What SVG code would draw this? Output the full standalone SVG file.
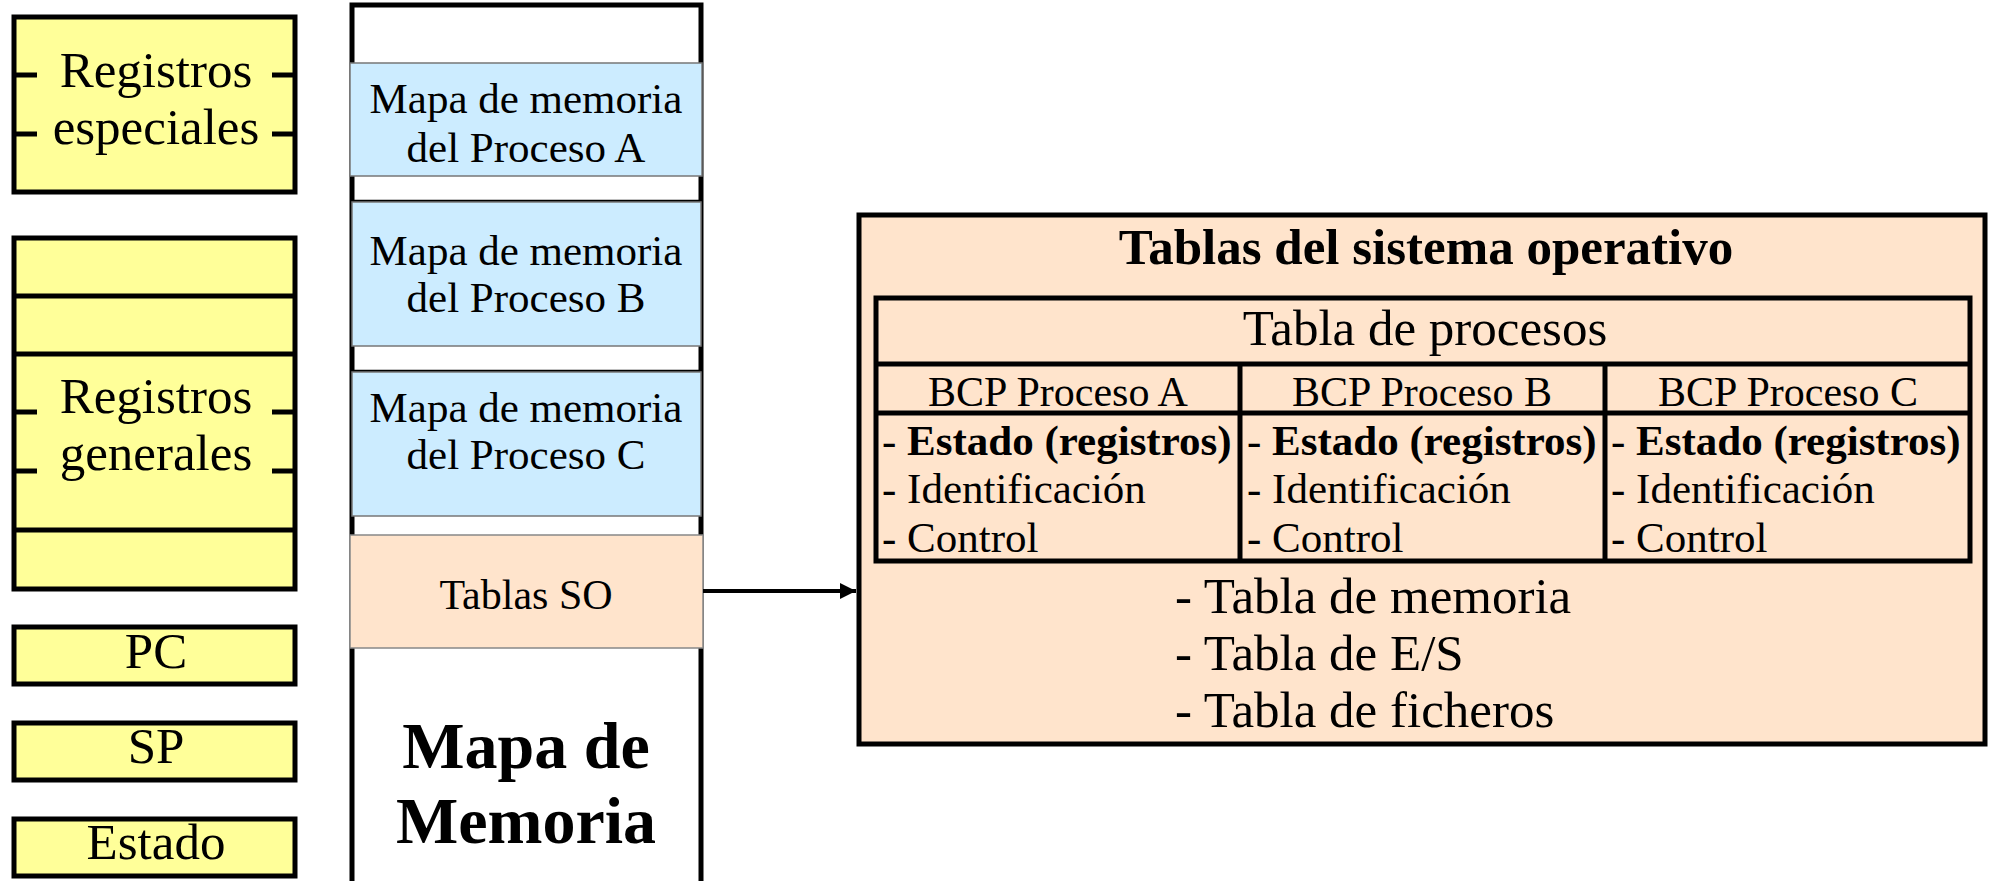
<svg xmlns="http://www.w3.org/2000/svg" width="1991" height="881" viewBox="0 0 1991 881">
<style>
.reg{fill:#FFFF99;stroke:#000;stroke-width:5}
.ln{stroke:#000;stroke-width:5;fill:none}
.t{font-family:"Liberation Serif","Times New Roman",serif;fill:#000}
.c{text-anchor:middle}
.b{font-weight:bold}
.blue{fill:#CCECFF;stroke:#777;stroke-width:1.5}
.peach{fill:#FFE4CC}
.sep{stroke:#000;stroke-width:2.5}
</style>
<defs>
<marker id="ah" markerWidth="16" markerHeight="16" refX="16" refY="8" orient="auto" markerUnits="userSpaceOnUse">
<path d="M0,0 L16,8 L0,16 z" fill="#000"/>
</marker>
</defs>
<rect width="1991" height="881" fill="#fff"/>

<g id="reg-especiales">
<rect class="reg" x="14" y="17" width="281" height="175"/>
<line class="ln" x1="14" y1="75" x2="37" y2="75"/>
<line class="ln" x1="272" y1="75" x2="295" y2="75"/>
<line class="ln" x1="14" y1="134" x2="37" y2="134"/>
<line class="ln" x1="272" y1="134" x2="295" y2="134"/>
<text class="t c" x="156" y="87" font-size="51">Registros</text>
<text class="t c" x="156" y="144" font-size="51">especiales</text>
</g>

<g id="reg-generales">
<rect class="reg" x="14" y="238" width="281" height="351"/>
<line class="ln" x1="14" y1="296" x2="295" y2="296"/>
<line class="ln" x1="14" y1="354" x2="295" y2="354"/>
<line class="ln" x1="14" y1="412" x2="37" y2="412"/>
<line class="ln" x1="272" y1="412" x2="295" y2="412"/>
<line class="ln" x1="14" y1="471" x2="37" y2="471"/>
<line class="ln" x1="272" y1="471" x2="295" y2="471"/>
<line class="ln" x1="14" y1="530" x2="295" y2="530"/>
<text class="t c" x="156" y="413" font-size="51">Registros</text>
<text class="t c" x="156" y="470" font-size="51">generales</text>
</g>

<g id="reg-pc">
<rect class="reg" x="14" y="627" width="281" height="57"/>
<text class="t c" x="156" y="668" font-size="51">PC</text>
</g>
<g id="reg-sp">
<rect class="reg" x="14" y="723" width="281" height="57"/>
<text class="t c" x="156" y="763" font-size="51">SP</text>
</g>
<g id="reg-estado">
<rect class="reg" x="14" y="819" width="281" height="57"/>
<text class="t c" x="156" y="859" font-size="51">Estado</text>
</g>

<g id="mapa-memoria">
<rect x="352" y="5" width="349" height="900" fill="#fff" stroke="#000" stroke-width="5"/>
<line class="sep" x1="352" y1="201" x2="701" y2="201"/>
<line class="sep" x1="352" y1="371" x2="701" y2="371"/>
<text class="t c b" x="526" y="768" font-size="66">Mapa de</text>
<text class="t c b" x="526" y="843" font-size="66">Memoria</text>
</g>

<g id="mapa-a">
<rect class="blue" x="350" y="63" width="352" height="113"/>
<text class="t c" x="526" y="113" font-size="43">Mapa de memoria</text>
<text class="t c" x="526" y="162" font-size="43">del Proceso A</text>
</g>
<g id="mapa-b">
<rect class="blue" x="352" y="202" width="349" height="144"/>
<text class="t c" x="526" y="265" font-size="43">Mapa de memoria</text>
<text class="t c" x="526" y="312" font-size="43">del Proceso B</text>
</g>
<g id="mapa-c">
<rect class="blue" x="352" y="372" width="349" height="144"/>
<text class="t c" x="526" y="422" font-size="43">Mapa de memoria</text>
<text class="t c" x="526" y="469" font-size="43">del Proceso C</text>
</g>
<g id="tablas-so">
<rect class="peach" x="350" y="535" width="353" height="113" stroke="#888" stroke-width="1.5"/>
<text class="t c" x="526" y="609" font-size="42">Tablas SO</text>
</g>

<g id="tablas-sistema">
<rect class="peach" x="859" y="215" width="1126" height="529" stroke="#000" stroke-width="5"/>
<text class="t c b" x="1426" y="264" font-size="51">Tablas del sistema operativo</text>
<rect x="876" y="298" width="1094" height="263" fill="none" stroke="#000" stroke-width="5"/>
<line class="ln" x1="876" y1="364" x2="1970" y2="364"/>
<line class="ln" x1="876" y1="413" x2="1970" y2="413"/>
<line class="ln" x1="1240" y1="364" x2="1240" y2="561"/>
<line class="ln" x1="1605" y1="364" x2="1605" y2="561"/>
<text class="t c" x="1425" y="345" font-size="51">Tabla de procesos</text>
<text class="t c" x="1058" y="406" font-size="42">BCP Proceso A</text>
<text class="t c" x="1422" y="406" font-size="42">BCP Proceso B</text>
<text class="t c" x="1788" y="406" font-size="42">BCP Proceso C</text>
<text class="t" x="882" y="455" font-size="43">- <tspan class="b">Estado (registros)</tspan></text>
<text class="t" x="882" y="503" font-size="43">- Identificación</text>
<text class="t" x="882" y="552" font-size="43">- Control</text>
<text class="t" x="1247" y="455" font-size="43">- <tspan class="b">Estado (registros)</tspan></text>
<text class="t" x="1247" y="503" font-size="43">- Identificación</text>
<text class="t" x="1247" y="552" font-size="43">- Control</text>
<text class="t" x="1611" y="455" font-size="43">- <tspan class="b">Estado (registros)</tspan></text>
<text class="t" x="1611" y="503" font-size="43">- Identificación</text>
<text class="t" x="1611" y="552" font-size="43">- Control</text>
<text class="t" x="1175" y="613" font-size="51">- Tabla de memoria</text>
<text class="t" x="1175" y="670" font-size="51">- Tabla de E/S</text>
<text class="t" x="1175" y="727" font-size="51">- Tabla de ficheros</text>
</g>

<g id="connectors">
<line x1="703" y1="591" x2="856" y2="591" stroke="#000" stroke-width="4" marker-end="url(#ah)"/>
</g>
</svg>
